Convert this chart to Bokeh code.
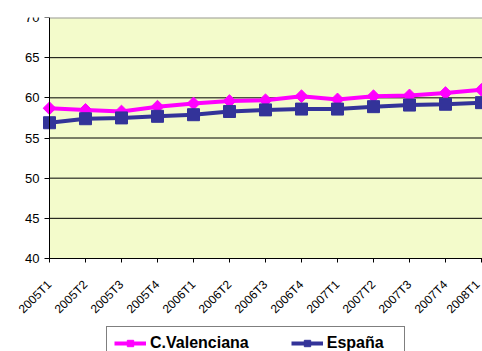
import math
from bokeh.plotting import figure
from bokeh.models import Range1d, FixedTicker, Legend, LegendItem, BoxAnnotation
from bokeh.embed import file_html
from bokeh.resources import INLINE

quarters = ["2005T1", "2005T2", "2005T3", "2005T4", "2006T1", "2006T2", "2006T3",
            "2006T4", "2007T1", "2007T2", "2007T3", "2007T4", "2008T1"]
valenciana = [58.7, 58.5, 58.3, 58.9, 59.3, 59.6, 59.7, 60.2, 59.8, 60.2, 60.3, 60.6, 61.0]
espana = [56.9, 57.4, 57.5, 57.7, 57.9, 58.3, 58.5, 58.6, 58.6, 58.9, 59.1, 59.2, 59.4]
y_ticks = [40, 45, 50, 55, 60, 65, 70]

x = list(range(len(quarters)))
FONT = "Liberation Sans"

# layout geometry (pixels)
FRAME_H = 334          # frame runs from the top border down to the window bottom
PLOT_H = 241           # height of the value area (40..70)
PX_X = 36.0            # pixels per quarter
LEFT = 49              # pixels left of the first quarter (room for y labels)
y_start = y_ticks[-1] - FRAME_H * (y_ticks[-1] - y_ticks[0]) / PLOT_H
x_start = x[0] - LEFT / PX_X
x_end = x[-1] + 1 / PX_X

p = figure(frame_width=482, frame_height=FRAME_H,
           x_range=Range1d(x_start, x_end),
           y_range=Range1d(y_start, y_ticks[-1]),
           output_backend="svg", toolbar_location=None,
           min_border_left=0, min_border_right=0, min_border_top=17, min_border_bottom=0)
p.background_fill_color = "white"
p.border_fill_color = "white"
p.outline_line_color = None

p.add_layout(BoxAnnotation(bottom=y_ticks[0], top=y_ticks[-1], left=x[0],
                           fill_color="#F3FBCB", fill_alpha=1, line_color=None,
                           level="image"))

p.xgrid.grid_line_color = None
p.ygrid.grid_line_color = None

# horizontal grid lines, only across the value area
p.segment(x0=[x[0]] * (len(y_ticks) - 1), y0=y_ticks[:-1],
          x1=[x_end] * (len(y_ticks) - 1), y1=y_ticks[:-1],
          line_color="black", line_width=1)
p.segment(x0=[x[0]], y0=[y_ticks[-1]], x1=[x_end], y1=[y_ticks[-1]],
          line_color="#9a9a9a", line_width=2)

p.yaxis.ticker = FixedTicker(ticks=y_ticks)
p.yaxis.fixed_location = x[0]
p.yaxis.bounds = (y_ticks[0], y_ticks[-1])
p.yaxis.axis_line_color = "black"
p.yaxis.major_tick_out = 5
p.yaxis.major_tick_in = 0
p.yaxis.minor_tick_line_color = None
p.yaxis.major_label_standoff = 5
p.yaxis.major_label_text_font = FONT
p.yaxis.major_label_text_font_size = "13px"
p.yaxis.major_label_text_color = "black"

p.xaxis.ticker = FixedTicker(ticks=x)
p.xaxis.fixed_location = y_ticks[0]
p.xaxis.bounds = (x[0], x[-1])
p.xaxis.major_label_overrides = {i: q for i, q in zip(x, quarters)}
p.xaxis.major_label_orientation = math.pi / 4
p.xaxis.axis_line_color = "black"
p.xaxis.major_tick_out = 4
p.xaxis.major_tick_in = 0
p.xaxis.minor_tick_line_color = None
p.xaxis.major_label_standoff = 20
p.xaxis.major_label_text_font = FONT
p.xaxis.major_label_text_font_size = "12px"
p.xaxis.major_label_text_color = "black"

r1 = p.line(x, valenciana, line_color="#FF00FF", line_width=4)
m1 = p.scatter(x, valenciana, marker="square", angle=math.pi / 4, size=9,
               fill_color="#FF00FF", line_color="#FF00FF")
r2 = p.line(x, espana, line_color="#333399", line_width=4)
m2 = p.scatter(x, espana, marker="square", size=12,
               fill_color="#333399", line_color="#333399")

legend = Legend(items=[LegendItem(label="C.Valenciana", renderers=[r1, m1]),
                       LegendItem(label="España", renderers=[r2, m2])],
                orientation="horizontal", location=(106, -9),
                label_text_font=FONT, label_text_font_size="16px",
                label_text_font_style="bold", label_text_color="black",
                glyph_width=32, glyph_height=16, label_height=16, label_width=70,
                label_standoff=4, spacing=42, padding=7, margin=0,
                border_line_color="black", border_line_width=1,
                background_fill_color="white", background_fill_alpha=1)
p.add_layout(legend)

open("out.html", "w").write(file_html(p, INLINE))
